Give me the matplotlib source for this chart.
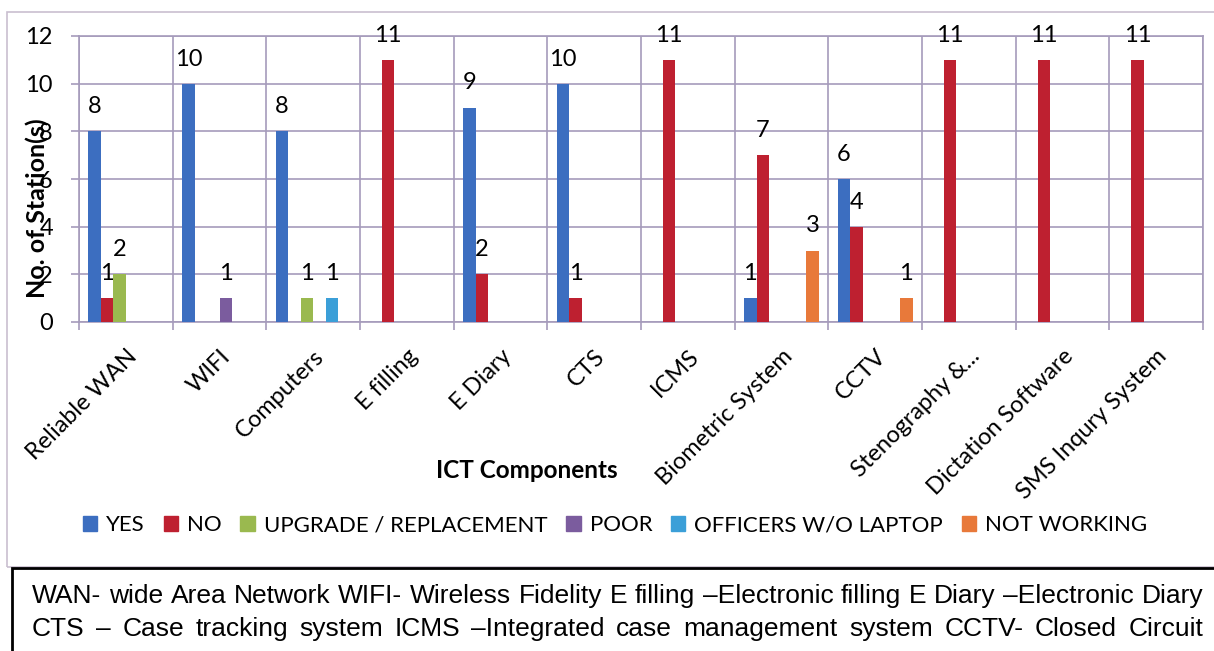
"""Grouped bar chart of ICT component status across stations."""

import matplotlib.pyplot as plt
import matplotlib.patches as mpatches
import matplotlib.transforms as mtransforms
import numpy as np

categories = ["Reliable WAN", "WIFI", "Computers", "E filling", "E Diary", "CTS",
              "ICMS", "Biometric System", "CCTV", "Stenography &...",
              "Dictation Software", "SMS Inqury System"]
series = ["YES", "NO", "UPGRADE / REPLACEMENT", "POOR",
          "OFFICERS W/O LAPTOP", "NOT WORKING"]
yes = [8, 10, 8, 0, 9, 10, 0, 1, 6, 0, 0, 0]
no = [1, 0, 0, 11, 2, 1, 11, 7, 4, 11, 11, 11]
upgrade = [2, 0, 1, 0, 0, 0, 0, 0, 0, 0, 0, 0]
poor = [0, 1, 0, 0, 0, 0, 0, 0, 0, 0, 0, 0]
officers = [0, 0, 1, 0, 0, 0, 0, 0, 0, 0, 0, 0]
not_working = [0, 0, 0, 0, 0, 0, 0, 3, 1, 0, 0, 0]
colors = ["#3C6EC0", "#BE2030", "#9AB94F", "#7B5C9E", "#3B9FD8", "#E8793A"]

footnote = ["WAN- wide Area Network WIFI- Wireless Fidelity E filling \u2013Electronic filling E Diary \u2013Electronic Diary",
            "CTS \u2013 Case tracking system ICMS \u2013Integrated case management system CCTV- Closed Circuit"]

W, H = 1214, 651
GRID = "#a59bbb"
FONT = "Lato"
FS = 17


def px(x, y):
    """Pixel position (from top-left) to figure fraction."""
    return x / W, 1 - y / H


def justify(fig, renderer, text, y, x0, x1, fs):
    words = text.split(" ")
    arts = [fig.text(0, 0, w, fontsize=fs, family="Liberation Sans") for w in words]
    widths = [a.get_window_extent(renderer).width for a in arts]
    gap = (x1 - x0 - sum(widths)) / (len(words) - 1)
    x = x0
    for a, w in zip(arts, widths):
        a.set_position(px(x, y))
        a.set_va("baseline")
        x += w + gap


def main() -> None:
    fig = plt.figure(figsize=(W / 100, H / 100), dpi=100)
    plt.rcParams["font.family"] = [FONT, "DejaVu Sans"]

    l, t, r, b = 79, 36, 1203, 322
    ax = fig.add_axes([l / W, 1 - b / H, (r - l) / W, (b - t) / H])

    data = [yes, no, upgrade, poor, officers, not_working]
    x = np.arange(len(categories))
    bw = 0.8 / len(series)
    for i, (vals, c, name) in enumerate(zip(data, colors, series)):
        xs = x - 0.4 + (i + 0.5) * bw
        ax.bar(xs, vals, width=bw, color=c, label=name, zorder=3)
        for xv, v in zip(xs, vals):
            if v:
                ax.annotate(str(v), (xv, v), xytext=(0, 13),
                            textcoords="offset points", ha="center",
                            va="baseline", fontsize=FS)

    ax.set_xlim(-0.5, len(categories) - 0.5)
    ax.set_ylim(0, 12)
    ax.set_yticks(range(0, 13, 2))
    ax.set_xticks(x)
    ax.set_xticks(np.arange(-0.5, len(categories)), minor=True)
    ax.set_xticklabels(categories, rotation=45, ha="right", va="top",
                       rotation_mode="anchor", fontsize=FS)
    shift = mtransforms.ScaledTranslation(1 / 100, 0, fig.dpi_scale_trans)
    for lab in ax.get_xticklabels():
        lab.set_transform(lab.get_transform() + shift)
    ax.tick_params(axis="x", which="major", length=0, pad=17)
    ax.tick_params(axis="x", which="minor", length=5.8, color=GRID, width=1.2)
    ax.tick_params(axis="y", length=5.8, color=GRID, width=1.2, pad=13,
                   labelsize=FS)
    ax.grid(axis="y", which="major", color=GRID, lw=1.2, zorder=0)
    ax.grid(axis="x", which="minor", color=GRID, lw=1.2, zorder=0)
    for s in ax.spines.values():
        s.set_color(GRID)
        s.set_linewidth(1.2)

    fig.text(*px(37, 208), "No. of Station(s)", rotation=90, ha="center",
             va="center", fontsize=18, fontweight="bold")
    fig.text(*px(527, 470), "ICT Components", ha="center", va="center",
             fontsize=17.5, fontweight="bold")

    handles = [mpatches.Patch(color=c, label=s) for c, s in zip(colors, series)]
    fig.legend(handles=handles, ncol=6, loc="center",
               bbox_to_anchor=px(615, 525), frameon=False, fontsize=16,
               handlelength=0.65, handleheight=0.65, handletextpad=0.4,
               columnspacing=0.85, borderaxespad=0)

    # outer chart frame and the footnote box below it
    fig.patches.append(mpatches.Rectangle(px(7, 567), 1.2, (567 - 12) / H,
                                          transform=fig.transFigure,
                                          fill=False, ec="#c9bfcf", lw=1.2))
    fig.patches.append(mpatches.Rectangle(px(12, 700), 1.2, (700 - 568) / H,
                                          transform=fig.transFigure,
                                          fill=False, ec="black", lw=2))

    # footnote: size so the first line fills the box, justify both lines
    renderer = fig.canvas.get_renderer()
    probe = fig.text(0, 0, footnote[0], fontsize=10, family="Liberation Sans")
    fs = 10 * (1203 - 32) / probe.get_window_extent(renderer).width
    probe.remove()
    justify(fig, renderer, footnote[0], 603, 32, 1203, fs)
    justify(fig, renderer, footnote[1], 636, 32, 1203, fs)

    fig.savefig("out.png", dpi=100)


if __name__ == "__main__":
    main()
